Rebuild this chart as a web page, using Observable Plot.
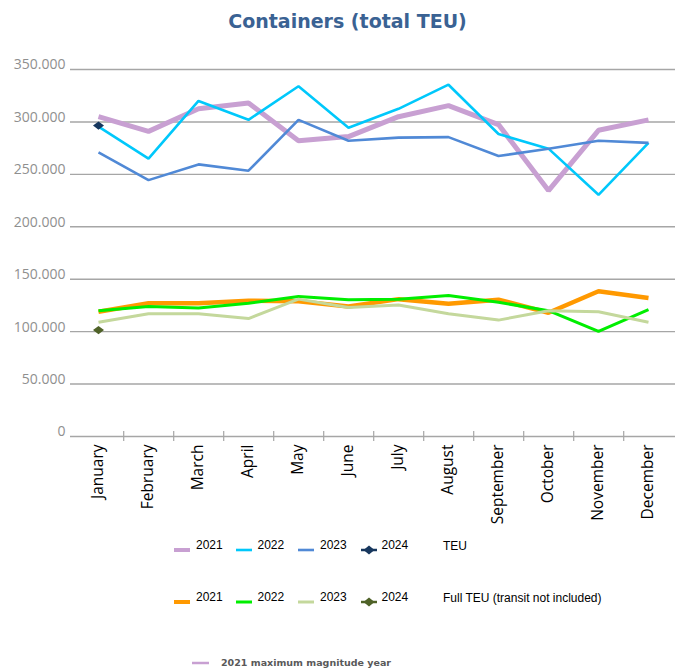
<!DOCTYPE html>
<html><head><meta charset="utf-8">
<script src="https://cdn.jsdelivr.net/npm/d3@7"></script>
<script src="https://cdn.jsdelivr.net/npm/@observablehq/plot@0.6"></script>
<style>
body{margin:0;background:#fff;}
#wrap{position:relative;width:685px;height:668px;overflow:hidden;font-family:"Liberation Sans",Arial,sans-serif;}
#title{position:absolute;left:5px;top:1px;width:685px;text-align:center;font-weight:bold;font-size:19px;font-family:"DejaVu Sans",sans-serif;color:#3a6293;line-height:40px;}
#chart{position:absolute;left:0;top:40px;}
.lg{position:absolute;font-size:12px;color:#000;white-space:nowrap;line-height:14px;}
.sw{position:absolute;}
.note{position:absolute;font-family:"DejaVu Sans",sans-serif;font-weight:bold;font-size:9.5px;color:#595959;white-space:nowrap;line-height:12px;}
</style></head>
<body><div id="wrap"><div id="title">Containers (total TEU)</div><div id="chart"></div><div id="legend"></div></div>
<script>
const months = ["January","February","March","April","May","June","July","August","September","October","November","December"];
const teu2021 = [305000,291000,312500,318000,282000,286000,305000,315500,297500,234500,292000,302000];
const teu2022 = [295500,265000,320000,302000,334000,294500,312500,335500,288500,274500,230500,280000];
const teu2023 = [271000,244500,259500,253500,302000,282000,285000,285500,267500,274500,282000,280000];
const teu2024 = [296500];
const full2021 = [119000,127000,127000,129500,129000,124000,131000,126500,130500,118000,138500,132000];
const full2022 = [120000,124000,122500,127000,133500,130500,131000,134500,128000,120000,100200,121000];
const full2023 = [109000,117000,117000,112500,131000,123000,125500,117000,111000,120000,119000,109000];
const full2024 = [101500];
const yTicks = [0,50000,100000,150000,200000,250000,300000,350000];
const seriesNames = ["2021","2022","2023","2024"];
const groupLabels = ["TEU","Full TEU (transit not included)"];
const noteLabel = "2021 maximum magnitude year";

const lineStyles = [
  {data: teu2021, color:"#c8a0d2", width:5},
  {data: teu2022, color:"#00c8fb", width:2.6},
  {data: teu2023, color:"#5089d6", width:2.6},
  {data: full2021, color:"#ff9900", width:4.5},
  {data: full2022, color:"#00ee00", width:3},
  {data: full2023, color:"#c4d89c", width:3}
];
const dotStyles = [
  {data: teu2024, color:"#17375e"},
  {data: full2024, color:"#4f6228"}
];
const toRows = arr => arr.map((v,i)=>({month: months[i], value: v}));

// wide diamond marker like the reference
const wideDiamond = {
  draw(ctx, size) {
    const r = Math.sqrt(size / Math.PI);
    ctx.moveTo(-r*1.15, 0);
    ctx.lineTo(0, -r*0.85);
    ctx.lineTo(r*1.15, 0);
    ctx.lineTo(0, r*0.85);
    ctx.closePath();
  }
};

const W = 685, H = 490, mL = 70, mR = 10, mT = 29, mB = 94;
const step = (W - mL - mR) / months.length;
const fmt = d => d === 0 ? "0" : d3.format(",")(d).replace(/,/g, ".");

const marks = [
  Plot.ruleY(yTicks, {stroke:"#a6a6a6", strokeWidth:1.4}),
  Plot.ruleX(months.slice(0,-1), {x: d=>d, y1: 0, y2: 0, dx: step/2, insetTop:-5, insetBottom:-5, stroke:"#a6a6a6", strokeWidth:1.2}),
  Plot.axisY(yTicks, {tickSize:0, tickPadding:5, tickFormat: fmt, fontSize:14, fill:"#8f8f8f", dy:-4.5, fontFamily:"Open Sans"}),
  Plot.axisX({tickRotate:-90, tickSize:0, tickPadding:8, fontSize:15.5, fill:"#000", fontFamily:"Open Sans"}),
];
lineStyles.slice(0,3).forEach(s => marks.push(Plot.line(toRows(s.data), {x:"month", y:"value", stroke:s.color, strokeWidth:s.width, strokeLinejoin:"miter", strokeLinecap:"butt"})));
marks.push(Plot.dot(toRows(dotStyles[0].data), {x:"month", y:"value", symbol: wideDiamond, r:4.8, fill:dotStyles[0].color}));
lineStyles.slice(3).forEach(s => marks.push(Plot.line(toRows(s.data), {x:"month", y:"value", stroke:s.color, strokeWidth:s.width, strokeLinejoin:"miter", strokeLinecap:"butt"})));
marks.push(Plot.dot(toRows(dotStyles[1].data), {x:"month", y:"value", symbol: wideDiamond, r:4.8, fill:dotStyles[1].color}));

const chart = Plot.plot({
  width: W, height: H,
  marginLeft: mL, marginRight: mR, marginTop: mT, marginBottom: mB,
  x: {type:"point", domain: months, padding: 0.5, label: null},
  y: {domain:[0,350000], label: null},
  style: {background:"#fff", overflow:"visible"},
  marks
});
document.getElementById("chart").appendChild(chart);

// Legend
const legend = document.getElementById("legend");
const swX = [174, 236, 298, 361];
const txX = [196, 257.5, 320, 381.5];
const rows = [
  {swY:550, txY:545, styles:[lineStyles[0], lineStyles[1], lineStyles[2]], dot: dotStyles[0], label: groupLabels[0]},
  {swY:601.5, txY:596.5, styles:[lineStyles[3], lineStyles[4], lineStyles[5]], dot: dotStyles[1], label: groupLabels[1]}
];
const ns = "http://www.w3.org/2000/svg";
rows.forEach(r => {
  r.styles.forEach((s, i) => {
    const sv = document.createElementNS(ns, "svg");
    sv.setAttribute("class","sw"); sv.setAttribute("width",16); sv.setAttribute("height",10);
    sv.style.left = swX[i]+"px"; sv.style.top = (r.swY-5)+"px";
    const ln = document.createElementNS(ns,"line");
    ln.setAttribute("x1",0); ln.setAttribute("x2",16); ln.setAttribute("y1",5); ln.setAttribute("y2",5);
    ln.setAttribute("stroke", s.color); ln.setAttribute("stroke-width", Math.min(s.width,4));
    sv.appendChild(ln); legend.appendChild(sv);
    const t = document.createElement("div"); t.className="lg"; t.textContent = seriesNames[i];
    t.style.left = txX[i]+"px"; t.style.top = (r.txY-7)+"px"; legend.appendChild(t);
  });
  const sv = document.createElementNS(ns, "svg");
  sv.setAttribute("class","sw"); sv.setAttribute("width",16); sv.setAttribute("height",12);
  sv.style.left = swX[3]+"px"; sv.style.top = (r.swY-6)+"px";
  const ln = document.createElementNS(ns,"line");
  ln.setAttribute("x1",0); ln.setAttribute("x2",16); ln.setAttribute("y1",6); ln.setAttribute("y2",6);
  ln.setAttribute("stroke", r.dot.color); ln.setAttribute("stroke-width", 2.5);
  const dm = document.createElementNS(ns,"path");
  dm.setAttribute("d","M8,1.5 L13.5,6 L8,10.5 L2.5,6 Z"); dm.setAttribute("fill", r.dot.color);
  sv.appendChild(ln); sv.appendChild(dm); legend.appendChild(sv);
  const t = document.createElement("div"); t.className="lg"; t.textContent = seriesNames[3];
  t.style.left = txX[3]+"px"; t.style.top = (r.txY-7)+"px"; legend.appendChild(t);
  const g = document.createElement("div"); g.className="lg"; g.textContent = r.label;
  g.style.left = "443px"; g.style.top = (r.txY-6)+"px"; legend.appendChild(g);
});
{
  const sv = document.createElementNS(ns, "svg");
  sv.setAttribute("class","sw"); sv.setAttribute("width",17); sv.setAttribute("height",6);
  sv.style.left = "192px"; sv.style.top = "659.5px";
  const ln = document.createElementNS(ns,"line");
  ln.setAttribute("x1",0); ln.setAttribute("x2",17); ln.setAttribute("y1",3); ln.setAttribute("y2",3);
  ln.setAttribute("stroke", lineStyles[0].color); ln.setAttribute("stroke-width", 2.5);
  sv.appendChild(ln); legend.appendChild(sv);
  const t = document.createElement("div"); t.className="note"; t.textContent = noteLabel;
  t.style.left = "221px"; t.style.top = "657px"; legend.appendChild(t);
}
</script>
</body></html>
